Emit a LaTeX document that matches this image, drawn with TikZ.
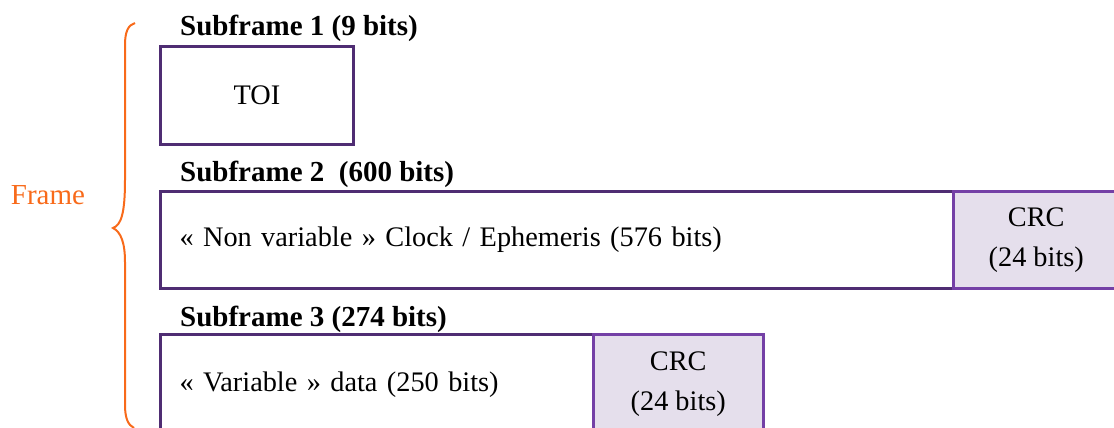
\documentclass[tikz,border=0pt]{standalone}
\usepackage{fontspec}
\setmainfont{Liberation Serif}
\definecolor{frameorange}{HTML}{F86A1A}
\definecolor{boxedge}{HTML}{4F2D73}
\definecolor{crcedge}{HTML}{7440A6}
\definecolor{crcfill}{HTML}{E5DFEC}
\begin{document}
\begin{tikzpicture}[x=1pt,y=-1pt,
  every node/.style={font=\fontsize{28.3}{40}\selectfont, inner sep=0pt},
  title/.style={font=\fontsize{29}{40}\selectfont\bfseries, anchor=base west},
  box/.style={draw=boxedge, line width=3pt, fill=white, anchor=north west},
  databox/.style={box, inner xsep=19pt, align=left},
  crcbox/.style={draw=crcedge, line width=2.5pt, fill=crcfill, anchor=north west, align=center}
]
\useasboundingbox (0,0) rectangle (1114,428);

% Frame brace
\draw[frameorange, line width=2pt]
  (135,23) .. controls (128,25) and (125,32) .. (125,45)
  -- (125,180) .. controls (125,214) and (121,225) .. (113,228)
  .. controls (121,232) and (125,243) .. (125,262)
  -- (125,405) .. controls (125,418) and (128,425) .. (134,428);
\node[text=frameorange, font=\fontsize{29}{40}\selectfont] (frame) at (48,195) {Frame};

% Subframe 1
\node[title] (t1) at (180,36) {Subframe 1 (9 bits)};
\node[box, minimum width=193pt, minimum height=98pt] (s1) at (159,45) {};
\node (toi) at (s1.center) {TOI};

% Subframe 2
\node[title] (t2) at (180,181) {Subframe 2\ \ (600 bits)};
\node[databox, text width=755pt, minimum height=97pt] (d2) at (159,190)
  {« Non variable » Clock / Ephemeris (576 bits)};
\node[crcbox, minimum width=166pt, minimum height=97pt] (c2) at (952,190)
  {CRC\\(24 bits)};

% Subframe 3
\node[title] (t3) at (180,326) {Subframe 3 (274 bits)};
\node[databox, text width=395pt, minimum height=100pt] (d3) at (159,333)
  {« Variable » data (250 bits)};
\node[crcbox, minimum width=170pt, minimum height=100pt] (c3) at (592,333)
  {CRC\\(24 bits)};
\end{tikzpicture}
\end{document}
